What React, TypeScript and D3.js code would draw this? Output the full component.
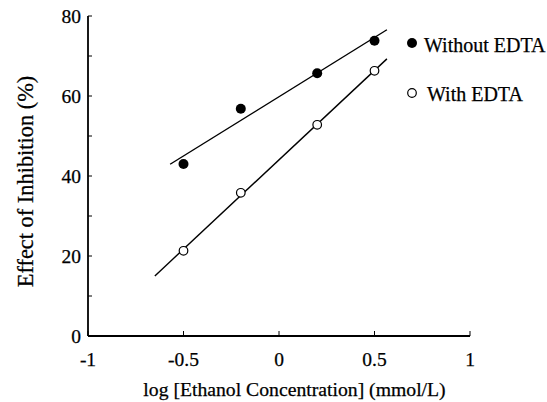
import React from "react";
import * as d3 from "d3";

const xValues = [-0.5, -0.2, 0.2, 0.5];
const withoutEDTA = [43, 56.8, 65.7, 73.8];
const withEDTA = [21.3, 35.8, 52.8, 66.3];
const withoutLineExtent = [-0.57, 0.565];
const withLineExtent = [-0.65, 0.565];
const xTicks = [-1, -0.5, 0, 0.5, 1];
const yTicks = [0, 10, 20, 30, 40, 50, 60, 70, 80];
const yTickLabels = [0, 20, 40, 60, 80];

function fit(xs: number[], ys: number[]) {
  const mx = d3.mean(xs)!;
  const my = d3.mean(ys)!;
  let sxy = 0, sxx = 0;
  xs.forEach((x, i) => { sxy += (x - mx) * (ys[i] - my); sxx += (x - mx) ** 2; });
  const b = sxy / sxx;
  const a = my - b * mx;
  return (x: number) => a + b * x;
}

const ts = { fontFamily: "Liberation Serif" };
const tp = { fontFamily: "Liberation Serif", stroke: "#000", strokeWidth: 0.25 } as any;

export default function App() {
  const W = 547, H = 402;
  const x = d3.scaleLinear().domain([-1, 1]).range([88, 470]);
  const y = d3.scaleLinear().domain([0, 80]).range([336, 16]);
  const fWithout = fit(xValues, withoutEDTA);
  const fWith = fit(xValues, withEDTA);
  const line = d3.line<number[]>().x(d => x(d[0])).y(d => y(d[1]));
  const lWithout = withoutLineExtent.map(v => [v, fWithout(v)]);
  const lWith = withLineExtent.map(v => [v, fWith(v)]);
  return (
    <svg width={W} height={H} style={{ position: "absolute", left: 0, top: 0, background: "#fff", ...ts }}>
      <rect width={W} height={H} fill="#fff" />
      <line x1={x(-1)} x2={x(-1)} y1={y(80)} y2={y(0)} stroke="#000" strokeWidth={1.8} />
      <line x1={x(-1)} x2={x(1)} y1={y(0)} y2={y(0)} stroke="#000" strokeWidth={1.8} />
      {yTicks.map(t => (
        <line key={"yt" + t} x1={x(-1)} x2={x(-1) + 4} y1={y(t)} y2={y(t)} stroke="#000" strokeWidth={1} />
      ))}
      {xTicks.map(t => (
        <line key={"xt" + t} x1={x(t)} x2={x(t)} y1={y(0)} y2={y(0) - 5} stroke="#000" strokeWidth={1} />
      ))}
      {yTickLabels.map(t => (
        <text key={"yl" + t} style={tp} x={x(-1) - 7} y={y(t) + 6.5} textAnchor="end" fontSize={19.5}>{t}</text>
      ))}
      {xTicks.map(t => (
        <text key={"xl" + t} style={tp} x={x(t)} y={366} textAnchor="middle" fontSize={19.5}>{t}</text>
      ))}
      <text style={tp} x={294.5} y={396} textAnchor="middle" fontSize={19.7}>log [Ethanol Concentration] (mmol/L)</text>
      <text style={tp} transform={`translate(33,${181.5}) rotate(-90)`} textAnchor="middle" fontSize={22.4}>Effect of Inhibition (%)</text>
      <path d={line(lWithout)!} fill="none" stroke="#000" strokeWidth={1.4} />
      <path d={line(lWith)!} fill="none" stroke="#000" strokeWidth={1.4} />
      {xValues.map((v, i) => (
        <circle key={"f" + i} cx={x(v)} cy={y(withoutEDTA[i])} r={5} fill="#000" />
      ))}
      {xValues.map((v, i) => (
        <circle key={"o" + i} cx={x(v)} cy={y(withEDTA[i])} r={4.3} fill="#fff" stroke="#000" strokeWidth={1.2} />
      ))}
      <circle cx={412} cy={43} r={5} fill="#000" />
      <text style={tp} x={424} y={52} fontSize={20}>Without EDTA</text>
      <circle cx={412} cy={93} r={4.3} fill="#fff" stroke="#000" strokeWidth={1.2} />
      <text style={tp} x={427} y={101} fontSize={20}>With EDTA</text>
    </svg>
  );
}
